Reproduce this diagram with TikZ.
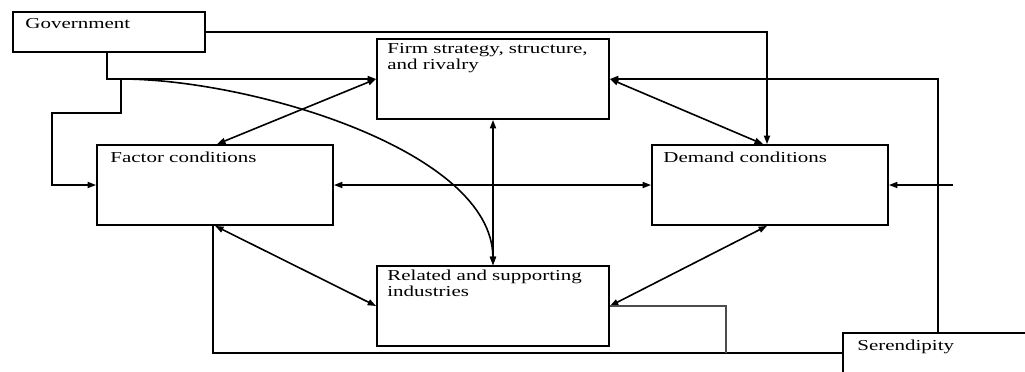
\documentclass[tikz,border=0pt]{standalone}
\usepackage{fontspec}
\setmainfont{Liberation Serif}[FakeStretch=1.38]
\usetikzlibrary{arrows.meta,calc}
\begin{document}
\begin{tikzpicture}[x=0.5pt,y=-0.5pt,
  box/.style={draw,line width=0.9pt,rectangle,inner sep=0pt},
  lbl/.style={anchor=base west,inner sep=0pt,font=\fontsize{7.6}{6.6}\selectfont,align=left},
  conn/.style={line width=0.8pt},
  tip/.style={-{Triangle[length=4.2pt,width=3pt]}},
  tips/.style={{Triangle[length=4.2pt,width=3pt]}-{Triangle[length=4.2pt,width=3pt]}}]
\useasboundingbox (0,0) rectangle (1025,371);
% boxes
\node[box,minimum width=96pt,minimum height=20pt] (gov) at (109,32) {};
\node[box,minimum width=116pt,minimum height=40pt] (firm) at (493,79) {};
\node[box,minimum width=118pt,minimum height=40pt] (factor) at (215,185) {};
\node[box,minimum width=118pt,minimum height=40pt] (demand) at (770,185) {};
\node[box,minimum width=116pt,minimum height=40pt] (related) at (493,306) {};
\node[box,minimum width=95pt,minimum height=20pt] (seren) at (938,353) {};
% texts
\node[lbl] (govt) at (25,28) {Government};
\node[lbl] (firmt) at (387,69) {Firm strategy, structure,\\and rivalry};
\node[lbl] (factort) at (110,162) {Factor conditions};
\node[lbl] (demandt) at (663,162) {Demand conditions};
\node[lbl] (relatedt) at (387,296) {Related and supporting\\industries};
\node[lbl] (serent) at (857,350) {Serendipity};
% helper coordinates
\coordinate (gsplit) at (121,79);
\coordinate (gdown) at ($(gov.south)+(-2,0)$);
\coordinate (dtop) at ($(demand.north)+(-3,0)$);
\coordinate (dtopd) at ($(demand.north)+(-7,0)$);
\coordinate (dbot) at ($(demand.south)+(-3,0)$);
\coordinate (ftop) at ($(factor.north west)+(121,0)$);
\coordinate (fbot) at ($(factor.south west)+(119,0)$);
\coordinate (fbotv) at ($(factor.south west)+(117,0)$);
\coordinate (rfree) at (953,185);
\coordinate (rcorner) at (726,306);
\coordinate (rbase) at (726,353);
% connectors
\draw[conn,tip] (gov.east) -| (dtop);
\draw[conn,tip] (gdown) |- (firm.west);
\draw[conn,tip] (gsplit) -- (121,113) -- (52,113) |- (factor.west);
\draw[conn,tip] (gsplit) .. controls (250,79) and (492,150) .. (related.north);
\draw[conn,tips] (firm.west) -- (ftop);
\draw[conn,tips] (firm.east) -- (dtopd);
\draw[conn,tips] (firm.south) -- (related.north);
\draw[conn,tips] (factor.east) -- (demand.west);
\draw[conn,tips] (fbot) -- (related.west);
\draw[conn,tips] (related.east) -- (dbot);
\draw[conn,tip] (seren.north) |- (firm.east);
\draw[conn,tip] (rfree) -- (demand.east);
\draw[conn] (seren.west) -| (fbotv);
\draw[conn,draw=black!70] (related.east) -- (rcorner) -- (rbase);
\end{tikzpicture}
\end{document}
